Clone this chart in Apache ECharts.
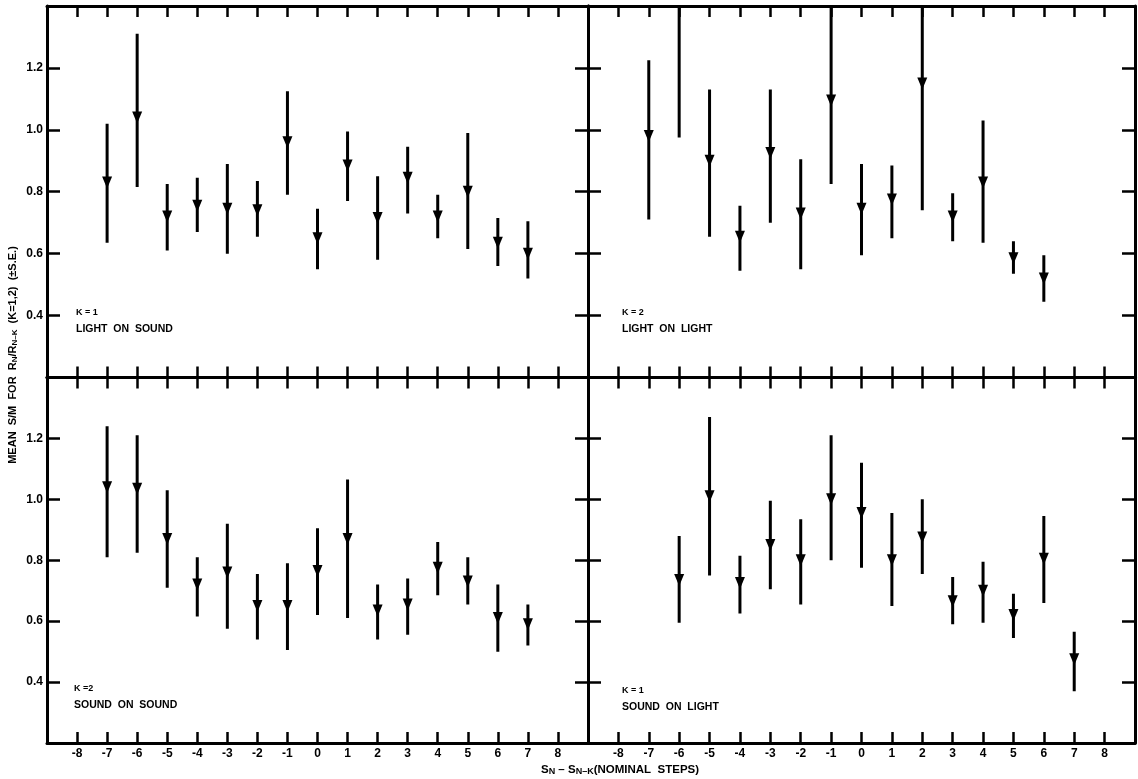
<!DOCTYPE html>
<html>
<head>
<meta charset="utf-8">
<script src="https://cdn.jsdelivr.net/npm/echarts@6/dist/echarts.min.js"></script>
<style>
  html, body { margin: 0; padding: 0; background: #fff; }
  #chart { width: 1138px; height: 779px; }
</style>
</head>
<body>
<div id="chart"></div>
<script>
// x steps for each panel
const stepsFull = [-7, -6, -5, -4, -3, -2, -1, 0, 1, 2, 3, 4, 5, 6, 7];
const stepsLol = [-7, -6, -5, -4, -3, -2, -1, 0, 1, 2, 3, 4, 5, 6];
const stepsSol = [-6, -5, -4, -3, -2, -1, 0, 1, 2, 3, 4, 5, 6, 7];

// K=1 light on sound
const losMean = [0.83, 1.04, 0.72, 0.755, 0.745, 0.74, 0.96, 0.65, 0.885, 0.715, 0.845, 0.72, 0.80, 0.635, 0.60];
const losHigh = [1.02, 1.31, 0.825, 0.845, 0.89, 0.835, 1.125, 0.745, 0.995, 0.85, 0.945, 0.79, 0.99, 0.715, 0.705];
const losLow  = [0.635, 0.815, 0.61, 0.67, 0.60, 0.655, 0.79, 0.55, 0.77, 0.58, 0.73, 0.65, 0.615, 0.56, 0.52];

// K=2 light on light (-6 mean is off the top of the frame)
const lolMean = [0.98, 1.45, 0.90, 0.655, 0.925, 0.73, 1.095, 0.745, 0.775, 1.15, 0.72, 0.83, 0.585, 0.52];
const lolHigh = [1.225, 1.9, 1.13, 0.755, 1.13, 0.905, 1.45, 0.89, 0.885, 1.5, 0.795, 1.03, 0.64, 0.595];
const lolLow  = [0.71, 0.975, 0.655, 0.545, 0.70, 0.55, 0.825, 0.595, 0.65, 0.74, 0.64, 0.635, 0.535, 0.445];

// K=2 sound on sound
const sosMean = [1.04, 1.035, 0.87, 0.72, 0.76, 0.65, 0.65, 0.765, 0.87, 0.635, 0.655, 0.775, 0.73, 0.61, 0.59];
const sosHigh = [1.24, 1.21, 1.03, 0.81, 0.92, 0.755, 0.79, 0.905, 1.065, 0.72, 0.74, 0.86, 0.81, 0.72, 0.655];
const sosLow  = [0.81, 0.825, 0.71, 0.615, 0.575, 0.54, 0.505, 0.62, 0.61, 0.54, 0.555, 0.685, 0.655, 0.50, 0.52];

// K=1 sound on light
const solMean = [0.735, 1.01, 0.725, 0.85, 0.80, 1.0, 0.955, 0.80, 0.875, 0.665, 0.70, 0.62, 0.805, 0.475];
const solHigh = [0.88, 1.27, 0.815, 0.995, 0.935, 1.21, 1.12, 0.955, 1.0, 0.745, 0.795, 0.69, 0.945, 0.565];
const solLow  = [0.595, 0.75, 0.625, 0.705, 0.655, 0.80, 0.775, 0.65, 0.755, 0.59, 0.595, 0.545, 0.66, 0.37];

const xTickLabels = ['-8', '-7', '-6', '-5', '-4', '-3', '-2', '-1', '0', '1', '2', '3', '4', '5', '6', '7', '8'];
const yTickLabels = ['0.4', '0.6', '0.8', '1.0', '1.2'];

const FONT = '"Liberation Sans", Arial, sans-serif';
const INK = '#000';

const panels = [
  { steps: stepsFull, mean: losMean, high: losHigh, low: losLow, k: 'K = 1', name: 'LIGHT  ON  SOUND',
    grid: { left: 47, top: 6, width: 541, height: 371.5 }, yLab: true, xLab: false, tx: 76, ty: 313 },
  { steps: stepsLol, mean: lolMean, high: lolHigh, low: lolLow, k: 'K = 2', name: 'LIGHT  ON  LIGHT',
    grid: { left: 588, top: 6, width: 547, height: 371.5 }, yLab: false, xLab: false, tx: 622, ty: 313 },
  { steps: stepsFull, mean: sosMean, high: sosHigh, low: sosLow, k: 'K =2', name: 'SOUND  ON  SOUND',
    grid: { left: 47, top: 377.5, width: 541, height: 365.5 }, yLab: true, xLab: true, tx: 74, ty: 689 },
  { steps: stepsSol, mean: solMean, high: solHigh, low: solLow, k: 'K = 1', name: 'SOUND  ON  LIGHT',
    grid: { left: 588, top: 377.5, width: 547, height: 365.5 }, yLab: false, xLab: true, tx: 622, ty: 691 }
];

const axisLine = { show: true, onZero: false, lineStyle: { color: INK, width: 3 } };

let grids = [], xAxes = [], yAxes = [], series = [], graphics = [];

panels.forEach(function (p, i) {
  grids.push(p.grid);
  ['bottom', 'top'].forEach(function (pos) {
    xAxes.push({
      type: 'value', gridIndex: i, position: pos, min: -9, max: 9, interval: 1,
      axisLine: axisLine,
      axisTick: { inside: true, length: 11, lineStyle: { color: INK, width: 2.5 } },
      axisLabel: {
        show: p.xLab && pos === 'bottom', margin: 5, color: INK,
        fontFamily: FONT, fontWeight: 'bold', fontSize: 12,
        formatter: function (v) { return xTickLabels.indexOf(String(v)) >= 0 ? String(v) : ''; }
      },
      splitLine: { show: false }
    });
  });
  ['left', 'right'].forEach(function (pos) {
    yAxes.push({
      type: 'value', gridIndex: i, position: pos, min: 0.2, max: 1.4, interval: 0.2,
      axisLine: axisLine,
      axisTick: { inside: true, length: 13, lineStyle: { color: INK, width: 2.5 } },
      axisLabel: {
        show: p.yLab && pos === 'left', margin: 4, color: INK,
        fontFamily: FONT, fontWeight: 'bold', fontSize: 12,
        formatter: function (v) {
          const s = v.toFixed(1);
          return yTickLabels.indexOf(s) >= 0 ? s : '';
        }
      },
      splitLine: { show: false }
    });
  });

  // error bars
  series.push({
    type: 'custom', xAxisIndex: i * 2, yAxisIndex: i * 2, clip: true,
    data: p.steps.map(function (s, j) { return [s, p.low[j], p.high[j]]; }),
    encode: { x: 0, y: [1, 2] },
    renderItem: function (params, api) {
      const a = api.coord([api.value(0), api.value(1)]);
      const b = api.coord([api.value(0), api.value(2)]);
      return {
        type: 'line',
        shape: { x1: a[0], y1: a[1], x2: b[0], y2: b[1] },
        style: { stroke: INK, lineWidth: 3 }
      };
    },
    silent: true, animation: false
  });
  // mean markers
  series.push({
    type: 'scatter', xAxisIndex: i * 2, yAxisIndex: i * 2,
    data: p.steps.map(function (s, j) { return [s, p.mean[j]]; }),
    symbol: 'triangle', symbolRotate: 180, symbolSize: [10, 12],
    itemStyle: { color: INK, opacity: 1 },
    silent: true, animation: false
  });

  graphics.push({
    type: 'text', x: p.tx, y: p.ty,
    style: { text: p.k, font: 'bold 9px ' + FONT, fill: INK, textVerticalAlign: 'middle' }
  });
  graphics.push({
    type: 'text', x: p.tx, y: p.ty + 16,
    style: { text: p.name, font: 'bold 10.5px ' + FONT, fill: INK, textVerticalAlign: 'middle' }
  });
});

// axis titles
graphics.push({
  type: 'text', x: 13, y: 355, rotation: Math.PI / 2,
  style: {
    text: 'MEAN  S/M  FOR  R{s|N}/R{s|N\u2013K}  (K=1,2)  (\u00b1S.E.)',
    font: 'bold 11px ' + FONT, fill: INK,
    textAlign: 'center', textVerticalAlign: 'middle',
    rich: {
      s: { fontSize: 8, fontWeight: 'bold', fontFamily: FONT, fill: INK, lineHeight: 9, verticalAlign: 'bottom' }
    }
  }
});
graphics.push({
  type: 'text', x: 541, y: 770,
  style: {
    text: 'S{s|N} \u2013 S{s|N\u2013K}(NOMINAL  STEPS)',
    font: 'bold 11.5px ' + FONT, fill: INK,
    textAlign: 'left', textVerticalAlign: 'middle',
    rich: {
      s: { fontSize: 9, fontWeight: 'bold', fontFamily: FONT, fill: INK, lineHeight: 10, verticalAlign: 'bottom' }
    }
  }
});

const chart = echarts.init(document.getElementById('chart'));
chart.setOption({
  backgroundColor: '#fff',
  animation: false,
  grid: grids,
  xAxis: xAxes,
  yAxis: yAxes,
  series: series,
  graphic: graphics
});
</script>
</body>
</html>
